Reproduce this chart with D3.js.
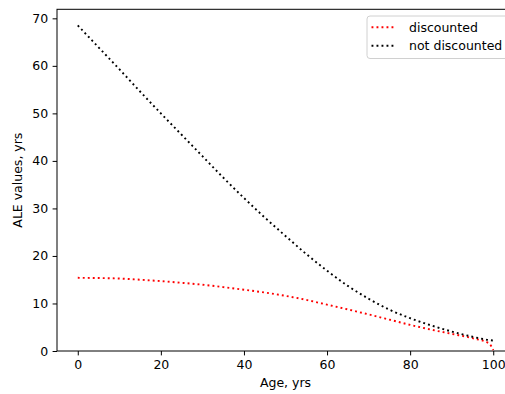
<!DOCTYPE html>
<html>
<head>
<meta charset="utf-8">
<script src="https://cdn.jsdelivr.net/npm/d3@7"></script>
<style>
  body { margin: 0; background: #fff; }
  svg { display: block; font-family: "DejaVu Sans", sans-serif; }
</style>
</head>
<body>
<svg id="chart" width="505" height="394"></svg>
<script>
var ages = [0, 5, 10, 15, 20, 25, 30, 35, 40, 45, 50, 55, 60, 65, 70, 75, 80, 85, 90, 95, 99, 100];
var discounted = [15.4, 15.35, 15.25, 15.0, 14.7, 14.35, 13.95, 13.45, 12.9, 12.3, 11.6, 10.75,
    9.75, 8.75, 7.7, 6.6, 5.5, 4.5, 3.6, 2.7, 1.6, 0.2];
var notDiscounted = [68.5, 63.9, 59.3, 54.6, 50.0, 45.5, 41.0, 36.5, 32.2, 28.1, 24.2, 20.4,
    16.9, 13.7, 11.0, 8.7, 6.9, 5.4, 4.1, 3.0, 2.3, 2.2];
var xTicks = [0, 20, 40, 60, 80, 100];
var yTicks = [0, 10, 20, 30, 40, 50, 60, 70];
var seriesNames = ["discounted", "not discounted"];
var seriesColors = ["#ff0000", "#000000"];

var svg = d3.select("#chart"),
    margin = { top: 9.3, left: 57, right: 514, bottom: 351 };

var x = d3.scaleLinear()
    .domain([-5, 105])
    .range([margin.left, margin.right]);

var y = d3.scaleLinear()
    .domain([0, 71.9])
    .range([margin.bottom, margin.top]);

var fontSize = 12.5;

// x axis
var gx = svg.append("g")
    .attr("transform", "translate(0," + margin.bottom + ")")
    .call(d3.axisBottom(x).tickValues(xTicks).tickSize(4.4).tickPadding(4.5));
gx.select(".domain").remove();
gx.selectAll("text").attr("font-size", fontSize).attr("font-family", "DejaVu Sans").attr("fill", "#000");
gx.selectAll("line").attr("stroke", "#000").attr("stroke-width", 1);

// y axis
var gy = svg.append("g")
    .attr("transform", "translate(" + margin.left + ",0)")
    .call(d3.axisLeft(y).tickValues(yTicks).tickSize(4.4).tickPadding(4.5));
gy.select(".domain").remove();
gy.selectAll("text").attr("font-size", fontSize).attr("font-family", "DejaVu Sans").attr("fill", "#000");
gy.selectAll("line").attr("stroke", "#000").attr("stroke-width", 1);

// spines
svg.append("rect")
    .attr("x", margin.left)
    .attr("y", margin.top)
    .attr("width", margin.right - margin.left)
    .attr("height", margin.bottom - margin.top)
    .attr("fill", "none")
    .attr("stroke", "#000")
    .attr("stroke-width", 1);

// axis labels
svg.append("text")
    .attr("x", (margin.left + margin.right) / 2)
    .attr("y", 387)
    .attr("text-anchor", "middle")
    .attr("font-size", fontSize)
    .text("Age, yrs");

svg.append("text")
    .attr("transform", "translate(22," + ((margin.top + margin.bottom) / 2) + ") rotate(-90)")
    .attr("text-anchor", "middle")
    .attr("font-size", fontSize)
    .text("ALE values, yrs");

// lines
var line = d3.line()
    .curve(d3.curveMonotoneX)
    .x(function (d) { return x(d[0]); })
    .y(function (d) { return y(d[1]); });

[discounted, notDiscounted].forEach(function (vals, i) {
    svg.append("path")
        .datum(ages.map(function (a, j) { return [a, vals[j]]; }))
        .attr("fill", "none")
        .attr("stroke", seriesColors[i])
        .attr("stroke-width", 1.9)
        .attr("stroke-dasharray", "1.9,3.1")
        .attr("d", line);
});

// legend
var legend = svg.append("g");
legend.append("rect")
    .attr("x", 367)
    .attr("y", 16)
    .attr("width", 141)
    .attr("height", 42.5)
    .attr("rx", 3)
    .attr("fill", "#fff")
    .attr("fill-opacity", 0.8)
    .attr("stroke", "#d0d0d0")
    .attr("stroke-width", 1);

seriesNames.forEach(function (name, i) {
    var cy = 27.3 + i * 18.4;
    legend.append("line")
        .attr("x1", 371.5).attr("x2", 396.5)
        .attr("y1", cy).attr("y2", cy)
        .attr("stroke", seriesColors[i])
        .attr("stroke-width", 1.9)
        .attr("stroke-dasharray", "1.9,3.1");
    legend.append("text")
        .attr("x", 409)
        .attr("y", cy)
        .attr("dy", "0.36em")
        .attr("font-size", fontSize)
        .text(name);
});
</script>
</body>
</html>
